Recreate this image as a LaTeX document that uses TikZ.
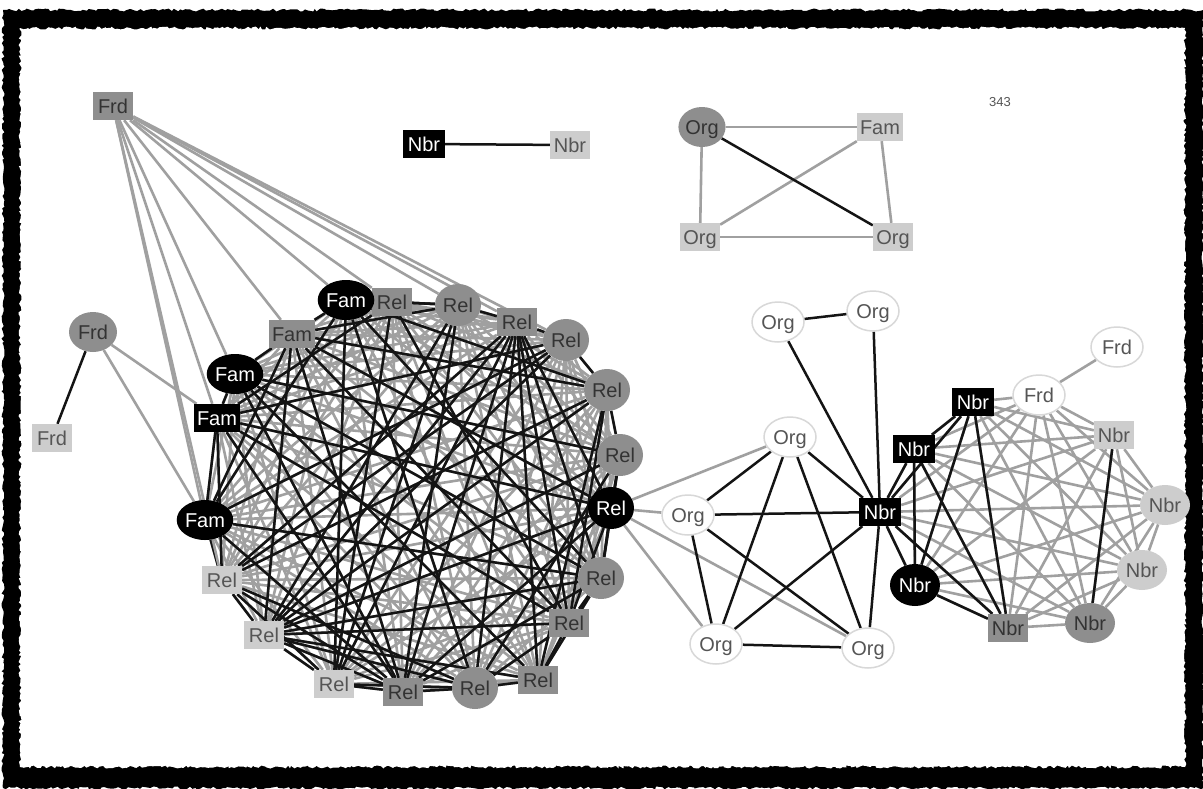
\documentclass[tikz,border=0pt]{standalone}
\usepackage{fontspec}
\setmainfont{Liberation Sans}
\usetikzlibrary{shapes.geometric,backgrounds,decorations.pathmorphing}
\definecolor{gmed}{HTML}{8E8E8E}
\definecolor{glight}{HTML}{CDCDCD}
\definecolor{gedge}{HTML}{A0A0A0}
\definecolor{tdark}{HTML}{333333}
\definecolor{tmid}{HTML}{555555}
\definecolor{gborder}{HTML}{D8D8D8}
\newcommand{\nfont}{\fontsize{20}{20}\selectfont}
\tikzset{
  nd/.style={font=\nfont, inner sep=0pt, text height=14pt, text depth=0pt},
  rblk/.style={nd, rectangle, fill=black, text=white, minimum width=42pt, minimum height=28pt},
  rmed/.style={nd, rectangle, fill=gmed, text=tdark, minimum width=40pt, minimum height=28pt},
  rlt/.style={nd, rectangle, fill=glight, text=tmid, minimum width=40pt, minimum height=28pt},
  eblk/.style={nd, ellipse, fill=black, text=white, minimum width=56pt, minimum height=40pt},
  emed/.style={nd, ellipse, fill=gmed, text=tdark, minimum width=46pt, minimum height=42pt},
  elt/.style={nd, ellipse, fill=glight, text=tmid, minimum width=50pt, minimum height=40pt},
  ewht/.style={nd, ellipse, fill=white, draw=gborder, line width=1.5pt, text=tmid, minimum width=52pt, minimum height=40pt},
  gedge/.style={draw=gedge, line width=2.6pt},
  bedge/.style={draw=black!92, line width=2.5pt},
}
\begin{document}
\begin{tikzpicture}[x=1pt,y=-1pt]
\useasboundingbox (0,0) rectangle (1203,788);
\begin{pgfonlayer}{background}
\fill[white] (0,0) rectangle (1203,788);
\fill[black, decorate, decoration={random steps, segment length=3pt, amplitude=1.5pt}]
  (3,10) -- (1203,10) -- (1203,788) -- (3,788) -- cycle;
\fill[white, decorate, decoration={random steps, segment length=2.5pt, amplitude=1.5pt}]
  (20,28) -- (1185,28) -- (1185,767) -- (20,767) -- cycle;
\end{pgfonlayer}

\node[font=\fontsize{13}{13}\selectfont, text=tmid] (num) at (1000,102) {343};

% left Frd nodes
\node[rmed] (f1) at (113,106) {Frd};
\node[emed, minimum width=48pt, minimum height=40pt] (f2) at (93,332) {Frd};
\node[rlt] (f3) at (52,438) {Frd};

% Nbr pair
\node[rblk] (p1) at (424,144) {Nbr};
\node[rlt] (p2) at (570,145) {Nbr};

% top right square
\node[emed, minimum width=46pt, minimum height=40pt] (t1) at (702,127) {Org};
\node[rlt, minimum width=46pt] (t2) at (880,127) {Fam};
\node[rlt] (t3) at (700,237) {Org};
\node[rlt] (t4) at (893,237) {Org};

% big cluster
\node[rmed] (c2) at (392,302) {Rel};
\node[eblk] (c1) at (346,300) {Fam};
\node[emed] (c3) at (458,305) {Rel};
\node[rmed] (c4) at (517,322) {Rel};
\node[emed] (c5) at (566,340) {Rel};
\node[emed] (c6) at (607,390) {Rel};
\node[emed] (c7) at (620,455) {Rel};
\node[eblk, minimum width=46pt, minimum height=42pt] (c8) at (611,508) {Rel};
\node[emed] (c9) at (601,578) {Rel};
\node[rmed] (c10) at (569,623) {Rel};
\node[rmed] (c11) at (538,680) {Rel};
\node[emed] (c12) at (475,688) {Rel};
\node[rmed] (c13) at (403,692) {Rel};
\node[rlt] (c14) at (334,684) {Rel};
\node[rlt] (c15) at (264,635) {Rel};
\node[rlt] (c16) at (222,580) {Rel};
\node[eblk] (c17) at (205,520) {Fam};
\node[rblk, minimum width=46pt] (c18) at (217,418) {Fam};
\node[eblk] (c19) at (235,374) {Fam};
\node[rmed, minimum width=46pt] (c20) at (292,334) {Fam};

% middle Org cluster
\node[ewht] (m1) at (778,322) {Org};
\node[ewht] (m2) at (873,311) {Org};
\node[ewht] (m3) at (790,437) {Org};
\node[ewht] (m4) at (688,515) {Org};
\node[ewht] (m5) at (716,644) {Org};
\node[ewht] (m6) at (868,648) {Org};

% right cluster
\node[rblk] (r1) at (880,512) {Nbr};
\node[rblk] (r2) at (914,449) {Nbr};
\node[rblk] (r3) at (973,402) {Nbr};
\node[ewht] (r4) at (1039,395) {Frd};
\node[rlt] (r5) at (1114,435) {Nbr};
\node[elt] (r6) at (1165,505) {Nbr};
\node[elt] (r7) at (1142,570) {Nbr};
\node[emed, minimum width=50pt, minimum height=40pt] (r8) at (1090,623) {Nbr};
\node[rmed] (r9) at (1008,628) {Nbr};
\node[eblk, minimum width=50pt, minimum height=42pt] (r10) at (915,585) {Nbr};
\node[ewht] (fe) at (1117,347) {Frd};

\begin{pgfonlayer}{background}
  % big cluster: all pairs gray
  \foreach \i in {1,...,19}{
    \pgfmathtruncatemacro\s{\i+1}
    \foreach \j in {\s,...,20}{
      \draw[gedge] (c\i) -- (c\j);
    }
  }
  % big cluster: black subset
  \foreach \i in {1,...,19}{
    \pgfmathtruncatemacro\s{\i+1}
    \foreach \j in {\s,...,20}{
      \pgfmathtruncatemacro\r{mod(\i*37+\j*53+\i*\j*11,100)}
      \pgfmathtruncatemacro\d{\j-\i}
      \pgfmathtruncatemacro\up{(\i>1)&&(\i<8)&&(\j<8) ? 1 : 0}
      \ifnum\d=1 \draw[bedge] (c\i) -- (c\j);
      \else\ifnum\d=19 \draw[bedge] (c\i) -- (c\j);
      \else\ifnum\up=1 \ifnum\r<10 \draw[bedge] (c\i) -- (c\j);\fi
      \else\ifnum\r<36 \draw[bedge] (c\i) -- (c\j);\fi
      \fi\fi\fi
    }
  }
  % Frd edges
  \foreach \k in {16,17,18,19,20,1,2,3,4,5}{ \draw[gedge] (f1) -- (c\k); }
  \draw[gedge] (f2) -- (c18);
  \draw[gedge] (f2) -- (c17);
  \draw[bedge] (f2) -- (f3);
  % Nbr pair
  \draw[bedge] (p1) -- (p2);
  % top right square
  \draw[gedge] (t1) -- (t2);
  \draw[gedge] (t1) -- (t3);
  \draw[gedge] (t2) -- (t3);
  \draw[gedge] (t2) -- (t4);
  \draw[gedge] (t3) -- (t4);
  \draw[bedge] (t1) -- (t4);
  % Rel (black) to Orgs
  \foreach \k in {3,4,5,6}{ \draw[gedge] (c8) -- (m\k); }
  % Org cluster
  \foreach \a/\b in {m1/m2, m1/r1, m2/r1, m3/m4, m3/r1, m3/m5, m3/m6, m4/r1, m4/m5, m4/m6, m5/m6, m5/r1, m6/r1}{
    \draw[bedge] (\a) -- (\b);
  }
  % right cluster all pairs gray
  \foreach \i in {1,...,9}{
    \pgfmathtruncatemacro\s{\i+1}
    \foreach \j in {\s,...,10}{
      \draw[gedge] (r\i) -- (r\j);
    }
  }
  \draw[gedge] (r4) -- (fe);
  \foreach \a/\b in {r1/r2, r1/r3, r1/r10, r1/r9, r2/r3, r2/r10, r2/r9, r3/r10, r3/r9, r10/r9, r5/r8}{
    \draw[bedge] (\a) -- (\b);
  }
\end{pgfonlayer}
\end{tikzpicture}
\end{document}
